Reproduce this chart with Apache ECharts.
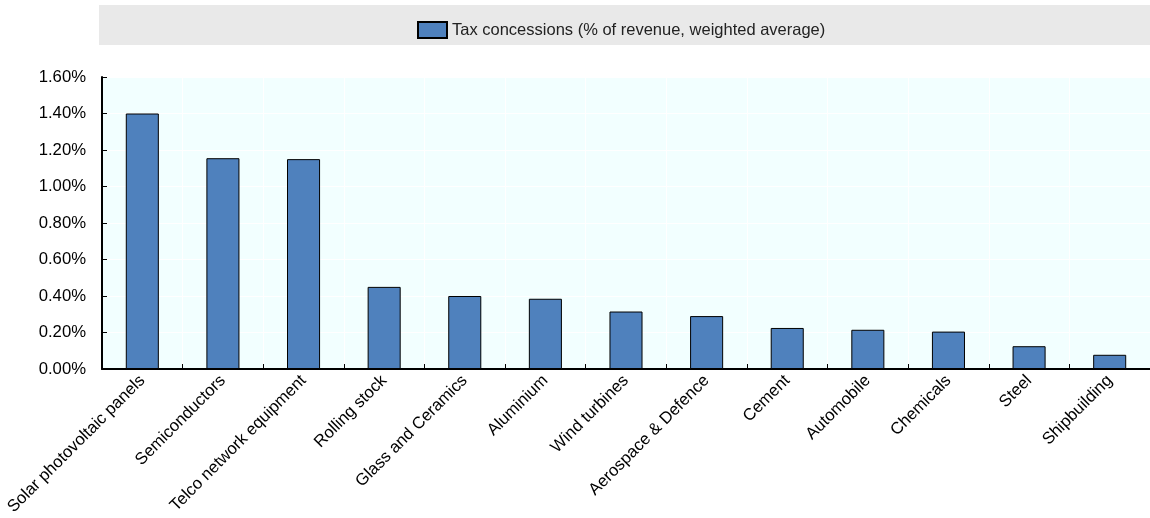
<!DOCTYPE html>
<html><head><meta charset="utf-8">
<script src="https://cdn.jsdelivr.net/npm/echarts@6/dist/echarts.min.js"></script>
<style>html,body{margin:0;padding:0;background:#fff}#c{width:1150px;height:518px}</style>
</head><body><div id="c"></div>
<script>
const categories = ["Solar photovoltaic panels","Semiconductors","Telco network equipment","Rolling stock","Glass and Ceramics","Aluminium","Wind turbines","Aerospace & Defence","Cement","Automobile","Chemicals","Steel","Shipbuilding"];
const seriesName = "Tax concessions (% of revenue, weighted average)";
const values = [1.40,1.155,1.15,0.45,0.40,0.385,0.315,0.29,0.225,0.215,0.205,0.125,0.078];
const yTicks = {min:0, max:1.6, interval:0.2};

const chart = echarts.init(document.getElementById('c'), null, {renderer:'canvas'});
const font = "'Liberation Sans', Arial, sans-serif";
chart.setOption({
  animation:false,
  textStyle:{fontFamily:font},
  graphic:[{type:'rect', left:99, top:5, shape:{width:1051, height:40}, style:{fill:'#e9e9e9'}, z:-1}],
  legend:{top:16, left:412, itemWidth:29, itemHeight:16, itemGap:6, icon:'rect',
    textStyle:{fontFamily:font, fontSize:16.5, color:'#222'}, data:[seriesName]},
  grid:{left:102, right:0, top:77, bottom:147, show:true, backgroundColor:'#f2ffff', borderWidth:0},
  xAxis:{type:'category', data:categories,
    axisLine:{lineStyle:{color:'#000', width:2}},
    axisTick:{show:true, inside:true, length:5, lineStyle:{color:'#000'}},
    axisLabel:{rotate:45, interval:0, fontSize:16.7, color:'#000', fontFamily:font, margin:9},
    splitLine:{show:true, lineStyle:{color:'#ffffff', width:1}}},
  yAxis:{type:'value', min:yTicks.min, max:yTicks.max, interval:yTicks.interval,
    axisLine:{show:true, lineStyle:{color:'#000', width:2}},
    axisTick:{show:true, inside:true, length:5, lineStyle:{color:'#000'}},
    axisLabel:{fontSize:16.7, color:'#000', fontFamily:font, margin:16, formatter:v=>v.toFixed(2)+'%'},
    splitLine:{show:true, lineStyle:{color:'#ffffff', width:1}}},
  series:[{name:seriesName, type:'bar', data:values, barWidth:'41%',
    itemStyle:{color:'#4f81bd', borderColor:'#000', borderWidth:1}}]
});
</script></body></html>
